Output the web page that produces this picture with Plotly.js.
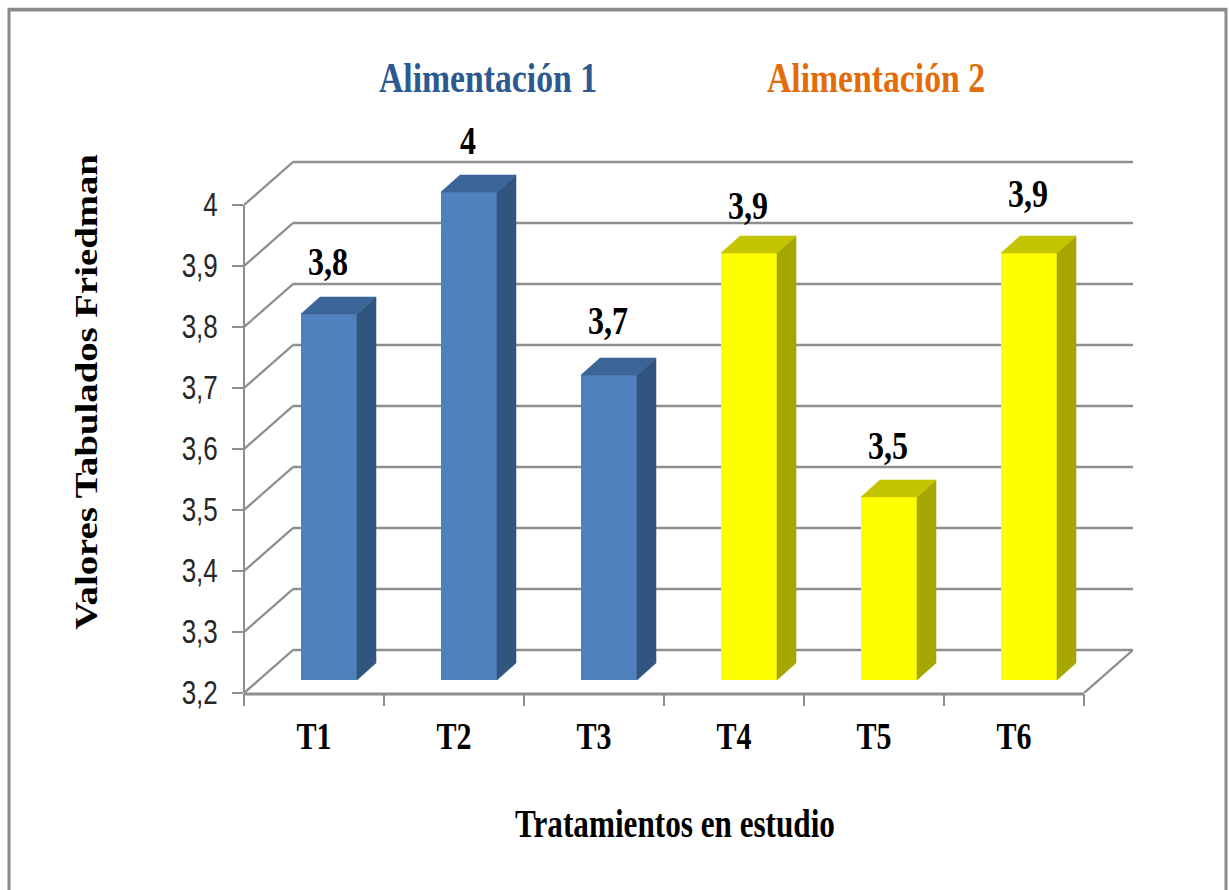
<!DOCTYPE html>
<html lang="es">
<head>
<meta charset="utf-8">
<title>Valores Tabulados Friedman</title>
<script src="https://cdn.plot.ly/plotly-3.0.1.min.js"></script>
<style>
  html, body { margin: 0; padding: 0; background: #fff; overflow: hidden; }
  #wrap { width: 1229px; height: 890px; overflow: hidden; position: relative; }
  #chart { position: absolute; left: 0; top: 0; transform-origin: 0 0; }
</style>
</head>
<body>
<div id="wrap"><div id="chart"></div></div>
<script>
// Tratamientos y valores tabulados
const categories = ["T1", "T2", "T3", "T4", "T5", "T6"];
const values = [3.8, 4, 3.7, 3.9, 3.5, 3.9];
const groupOne = [0, 1, 2];
const groupTwo = [3, 4, 5];
const yTicks = [3.2, 3.3, 3.4, 3.5, 3.6, 3.7, 3.8, 3.9, 4];
const groupTitles = ["Alimentación 1", "Alimentación 2"];
const xTitle = "Tratamientos en estudio";
const yTitle = "Valores Tabulados Friedman";

// Page geometry: the chart is laid out flatter, then stretched vertically
const W = 1229, H = 890, STRETCH = 1.25;
const pxPerCat = 140, pxPerUnit = 610;
const xPx0 = 244, yPx0 = 693;          // pixel of x = 0.5 and y = 3.2
const yMin = 3.2;
const toX = px => 0.5 + (px - xPx0) / pxPerCat;
const toY = px => yMin + (yPx0 - px) / pxPerUnit;
const dxPx = px => px / pxPerCat;
const dyPx = px => px / pxPerUnit;
const comma = v => String(v).replace(".", ",");

// Depth of the back wall and of each bar
const wallDx = dxPx(49), wallDy = dyPx(43);
const barDx = dxPx(19), barDy = dyPx(17);
const barShift = dxPx(15), barWidth = dxPx(56), barLift = dyPx(13);
const frontRight = toX(1084);
const backRight = toX(1133);

const C = {
  grid: "#8e8e8e",
  blue: "#4f81bd", blueSide: "#32557f", blueTop: "#3b6497",
  yellow: "#ffff00", yellowSide: "#a6a600", yellowTop: "#c4c400",
  titleOne: "#2c5a8f", titleTwo: "#e36c0a"
};

const barLeft = i => i + 1 + barShift - barWidth / 2;
const barRight = i => i + 1 + barShift + barWidth / 2;
const barBase = yMin + barLift;
const barTop = i => values[i] + barLift;

// Front faces are true bars, side and top faces extrude them backwards
function frontTrace(idx, color) {
  return {
    type: "bar", xaxis: "x", yaxis: "y",
    x: idx.map(i => i + 1 + barShift),
    y: idx.map(i => values[i] - yMin),
    base: barBase, width: barWidth,
    marker: { color: color, line: { width: 0 } },
    hoverinfo: "skip", showlegend: false
  };
}
function faceTrace(idx, color, face) {
  const xs = [], ys = [];
  idx.forEach(i => {
    const l = barLeft(i), r = barRight(i), t = barTop(i);
    if (face === "side") {
      xs.push(r, r + barDx, r + barDx, r, r, null);
      ys.push(barBase, barBase + barDy, t + barDy, t, barBase, null);
    } else {
      xs.push(l, l + barDx, r + barDx, r, l, null);
      ys.push(t, t + barDy, t + barDy, t, t, null);
    }
  });
  return {
    type: "scatter", mode: "lines", xaxis: "x", yaxis: "y",
    x: xs, y: ys, fill: "toself", fillcolor: color,
    line: { width: 0.5, color: color },
    hoverinfo: "skip", showlegend: false
  };
}

// Small per-label nudges above each bar, in pixels
const labelRaise = [49, 48, 51, 44, 48, 56];
const labelTrace = {
  type: "scatter", mode: "text", xaxis: "x2", yaxis: "y",
  x: values.map((v, i) => i + 1 + barShift - dxPx(1)),
  y: values.map((v, i) => barTop(i) + dyPx(labelRaise[i])),
  text: values.map(v => "<b>" + comma(v) + "</b>"),
  textposition: "middle center",
  textfont: { family: "Liberation Serif", size: 32, color: "#000" },
  hoverinfo: "skip", showlegend: false
};

// Back wall lines live in data space
const wallLine = (x0, y0, x1, y1) => ({
  type: "line", layer: "below", xref: "x", yref: "y",
  x0, y0, x1, y1, line: { color: C.grid, width: 2 }
});
const shapes = [];
yTicks.forEach(t => {
  shapes.push(wallLine(0.5, t, 0.5 + wallDx, t + wallDy));
  shapes.push(wallLine(0.5 + wallDx, t + wallDy, backRight, t + wallDy));
});
shapes.push(wallLine(frontRight, yMin, backRight, yMin + wallDy));

// Front axis lines sit on the plot edge, so they use paper space to avoid clipping
const paperX = x => (xPx0 + (x - 0.5) * pxPerCat) / W;
const paperY = y => 1 - (yPx0 - (y - yMin) * pxPerUnit) / H;
const edgeLine = (x0, y0, x1, y1, width) => ({
  type: "line", layer: "below", xref: "paper", yref: "paper",
  x0: paperX(x0), y0: paperY(y0), x1: paperX(x1), y1: paperY(y1),
  line: { color: C.grid, width: width }
});
shapes.push(edgeLine(0.5, yMin, 0.5, yTicks[yTicks.length - 1], 2));
shapes.push(edgeLine(0.5, yMin - dyPx(1), frontRight, yMin - dyPx(1), 2.4));

// Outer frame, open at the bottom edge of the page
shapes.push({
  type: "rect", layer: "below", xref: "paper", yref: "paper",
  x0: 9 / W, x1: 1226 / W, y0: -0.02, y1: 1 - 9.5 / H,
  line: { color: "#8a8a8a", width: 3 }, fillcolor: "rgba(0,0,0,0)"
});

const serif = (size, color) => ({ family: "Liberation Serif", size: size, color: color || "#000" });
const groupTitle = (text, xPx, color) => ({
  xref: "paper", yref: "paper", x: xPx / W, y: 1 - 78 / H,
  xanchor: "center", yanchor: "middle",
  text: "<b>" + text + "</b>", showarrow: false, font: serif(33.7, color)
});

const layout = {
  width: W, height: H / STRETCH,
  margin: { l: 0, r: 0, t: 0, b: 0, pad: 0 },
  paper_bgcolor: "#fff", plot_bgcolor: "rgba(0,0,0,0)",
  showlegend: false, barmode: "overlay",
  font: { family: "Liberation Serif" },
  // Tick marks at the category boundaries
  xaxis: {
    domain: [xPx0 / W, 1133 / W], anchor: "y",
    range: [0.5, backRight], showgrid: false, zeroline: false, showline: false,
    tickmode: "array", tickvals: categories.map((c, i) => i + 0.5).concat(categories.length + 0.5),
    ticktext: categories.map(() => "").concat(""),
    ticks: "outside", ticklen: 9, tickwidth: 2, tickcolor: C.grid, fixedrange: true
  },
  // Category labels centred under each tick interval, with the axis title
  xaxis2: {
    domain: [xPx0 / W, 1106 / W], anchor: "y",
    range: [0.5, toX(1106)], showgrid: false, zeroline: false, showline: false,
    tickmode: "array", tickvals: categories.map((c, i) => i + 1),
    ticktext: categories.map(c => "<b>" + c + "</b>"),
    ticks: "", ticklabelstandoff: 14,
    tickfont: serif(30), fixedrange: true,
    title: { text: "<b>" + xTitle + "</b>", font: serif(31.2), standoff: 43 }
  },
  yaxis: {
    domain: [(H - yPx0) / H, (H - 91) / H], anchor: "x",
    range: [yMin, toY(91)], showgrid: false, zeroline: false, showline: false,
    tickmode: "array", tickvals: yTicks, ticktext: yTicks.map(comma),
    ticks: "outside", ticklen: 11, tickwidth: 2, tickcolor: C.grid,
    tickfont: { family: "Liberation Sans", size: 26, color: "#262626" },
    ticklabelstandoff: 9, fixedrange: true,
    title: { text: "<b>" + yTitle + "</b>", font: serif(31), standoff: 74 }
  },
  annotations: [
    groupTitle(groupTitles[0], 488, C.titleOne),
    groupTitle(groupTitles[1], 876.5, C.titleTwo)
  ],
  shapes: shapes
};

const traces = [
  frontTrace(groupOne, C.blue),
  frontTrace(groupTwo, C.yellow),
  faceTrace(groupOne, C.blueSide, "side"),
  faceTrace(groupOne, C.blueTop, "top"),
  faceTrace(groupTwo, C.yellowSide, "side"),
  faceTrace(groupTwo, C.yellowTop, "top"),
  labelTrace
];

document.getElementById("chart").style.transform = "scaleY(" + STRETCH + ")";
Plotly.newPlot("chart", traces, layout, { displayModeBar: false, staticPlot: true });
</script>
</body>
</html>
